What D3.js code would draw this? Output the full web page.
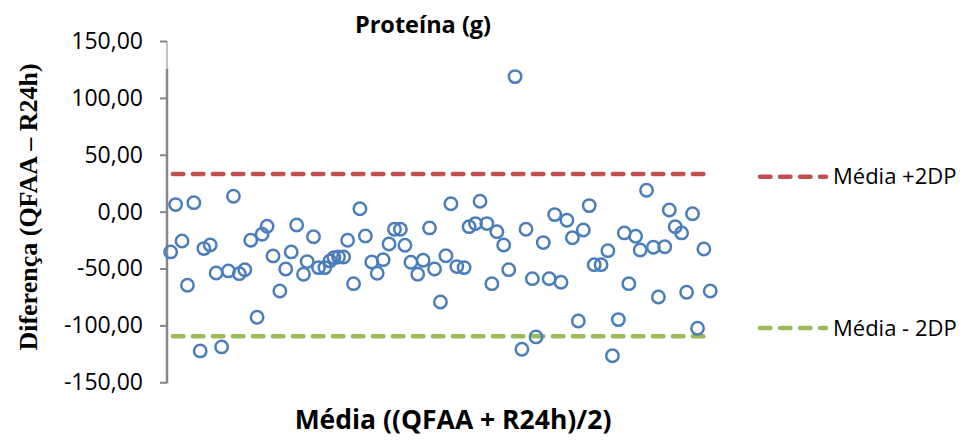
<!DOCTYPE html>
<html>
<head>
<meta charset="utf-8">
<script src="https://cdn.jsdelivr.net/npm/d3@7"></script>
<style>
  html, body { margin: 0; padding: 0; background: #ffffff; }
  svg { display: block; }
</style>
</head>
<body>
<svg id="chart" width="964" height="441"></svg>
<script>
// ---- data ----
const title = "Proteína (g)";
const xTitle = "Média ((QFAA + R24h)/2)";
const yTitle = "Diferença (QFAA – R24h)";
const yTicks = [-150, -100, -50, 0, 50, 100, 150];
const meanValues = [
  0.8, 1.9, 3.3, 4.5, 5.9, 7.3, 8.1, 9.5, 10.8, 12.0,
  13.5, 14.6, 15.9, 17.1, 18.4, 19.8, 20.9, 22.0, 23.3, 24.8,
  26.1, 27.3, 28.5, 30.0, 30.8, 32.2, 33.3, 34.7, 35.8, 36.7,
  37.7, 38.8, 39.7, 41.0, 42.4, 43.6, 45.0, 46.2, 47.5, 48.8,
  50.0, 51.3, 52.3, 53.6, 55.1, 56.3, 57.7, 58.8, 60.1, 61.3,
  62.4, 63.7, 65.3, 66.4, 67.8, 68.8, 70.3, 71.4, 72.5, 74.0,
  75.1, 76.5, 78.0, 78.9, 80.3, 81.1, 82.7, 84.0, 85.2, 86.6,
  87.9, 89.1, 90.4, 91.5, 92.8, 93.9, 95.4, 96.9, 97.9, 99.2,
  100.5, 101.5, 103.0, 104.0, 105.4, 106.9, 108.0, 109.4, 110.4, 111.7,
  113.1, 114.2, 115.5, 116.6, 118.0, 119.4
];
const diffValues = [
  -35.4, 6.2, -25.8, -64.7, 7.9, -122.4, -32.5, -29.3, -53.9, -118.9,
  -52.1, 13.5, -54.5, -51.0, -25.1, -92.8, -19.9, -12.8, -38.9, -69.7,
  -50.4, -35.4, -11.7, -55.0, -43.9, -22.0, -49.2, -49.2, -43.3, -40.4,
  -39.8, -39.8, -25.1, -63.3, 2.6, -21.4, -44.2, -54.1, -42.2, -28.4,
  -15.5, -15.5, -29.5, -44.5, -55.0, -42.7, -14.3, -50.4, -79.4, -38.7,
  7.0, -48.3, -49.2, -13.2, -10.5, 9.1, -10.5, -63.3, -17.6, -29.3,
  -51.0, 118.7, -120.9, -15.5, -58.9, -110.1, -27.2, -58.9, -2.6, -62.1,
  -7.6, -22.9, -96.1, -16.1, 5.3, -46.6, -46.6, -34.3, -126.6, -94.9,
  -18.7, -63.3, -21.6, -33.7, 18.8, -31.3, -75.0, -30.8, 1.5, -13.2,
  -18.7, -70.8, -1.8, -102.5, -32.8, -69.7
];
const limitNames = ["Média +2DP", "Média - 2DP"];
const limitValues = [33.2, -109.5];
const limitColors = ["#c0504d", "#9bbb59"];

// ---- layout ----
const svg = d3.select("#chart");
const axisX = 167;
const plotRight = 713;
const x = d3.scaleLinear().domain([0, 120]).range([axisX, plotRight]);
const y = d3.scaleLinear().domain([-150, 150]).range([382.3, 41]);

const locale = d3.formatLocale({decimal: ",", thousands: ".", grouping: [3], currency: ["", ""], minus: "-"});
const fmt = locale.format(".2f");

svg.append("rect").attr("width", 964).attr("height", 441).attr("fill", "#ffffff");

// y axis
const yAxis = d3.axisLeft(y).tickValues(yTicks).tickFormat(fmt)
  .tickSize(7).tickSizeOuter(0).tickPadding(17);
const gY = svg.append("g").attr("transform", `translate(${axisX},0)`).call(yAxis);
gY.select(".domain").remove();
gY.selectAll(".tick line").attr("stroke", "#868686").attr("stroke-width", 2);
gY.selectAll(".tick text")
  .attr("fill", "#000")
  .style("font-family", "'Open Sans', sans-serif")
  .style("font-size", "23px");

// axis line (thin top segment, thicker remainder)
svg.append("line")
  .attr("x1", axisX).attr("x2", axisX)
  .attr("y1", y(150)).attr("y2", y(125.5))
  .attr("stroke", "#868686").attr("stroke-width", 1);
svg.append("line")
  .attr("x1", axisX).attr("x2", axisX)
  .attr("y1", y(125.5)).attr("y2", y(-150) + 1)
  .attr("stroke", "#868686").attr("stroke-width", 2.5);

// limit lines
svg.selectAll(".limit").data(limitValues).enter().append("line")
  .attr("class", "limit")
  .attr("x1", x(1.3)).attr("x2", x(119.6))
  .attr("y1", d => y(d)).attr("y2", d => y(d))
  .attr("stroke", (d, i) => limitColors[i])
  .attr("stroke-width", 4.5)
  .attr("stroke-dasharray", "10.5,9.5")
  .attr("stroke-linecap", "round");

// points
const pts = meanValues.map((m, i) => ({m, d: diffValues[i]}));
svg.append("g").selectAll("circle").data(pts).enter().append("circle")
  .attr("cx", p => x(p.m))
  .attr("cy", p => y(p.d))
  .attr("r", 6.2)
  .attr("fill", "none")
  .attr("stroke", "#4a7ebb")
  .attr("stroke-width", 2.5);

// legend
const legend = svg.append("g");
limitValues.forEach((v, i) => {
  const ly = i === 0 ? 176.7 : 328;
  legend.append("line")
    .attr("x1", 760).attr("x2", 826)
    .attr("y1", ly).attr("y2", ly)
    .attr("stroke", limitColors[i])
    .attr("stroke-width", 4.5)
    .attr("stroke-dasharray", "10.5,9.5")
    .attr("stroke-linecap", "round");
  legend.append("text")
    .attr("x", 833).attr("y", ly)
    .attr("dy", "0.35em")
    .style("font-family", "'Open Sans', sans-serif")
    .style("font-size", "22px")
    .attr("fill", "#000")
    .text(limitNames[i]);
});

// titles
svg.append("text")
  .attr("x", 423).attr("y", 33)
  .attr("text-anchor", "middle")
  .style("font-family", "'Open Sans', sans-serif")
  .style("font-weight", "bold")
  .style("font-size", "23.5px")
  .text(title);

svg.append("text")
  .attr("x", 453).attr("y", 429)
  .attr("text-anchor", "middle")
  .style("font-family", "'Open Sans', sans-serif")
  .style("font-weight", "bold")
  .style("font-size", "26.5px")
  .text(xTitle);

svg.append("text")
  .attr("transform", "translate(37,207) rotate(-90)")
  .attr("text-anchor", "middle")
  .style("font-family", "'Liberation Serif', 'Times New Roman', serif")
  .style("font-weight", "bold")
  .style("font-size", "26px")
  .text(yTitle);
</script>
</body>
</html>
